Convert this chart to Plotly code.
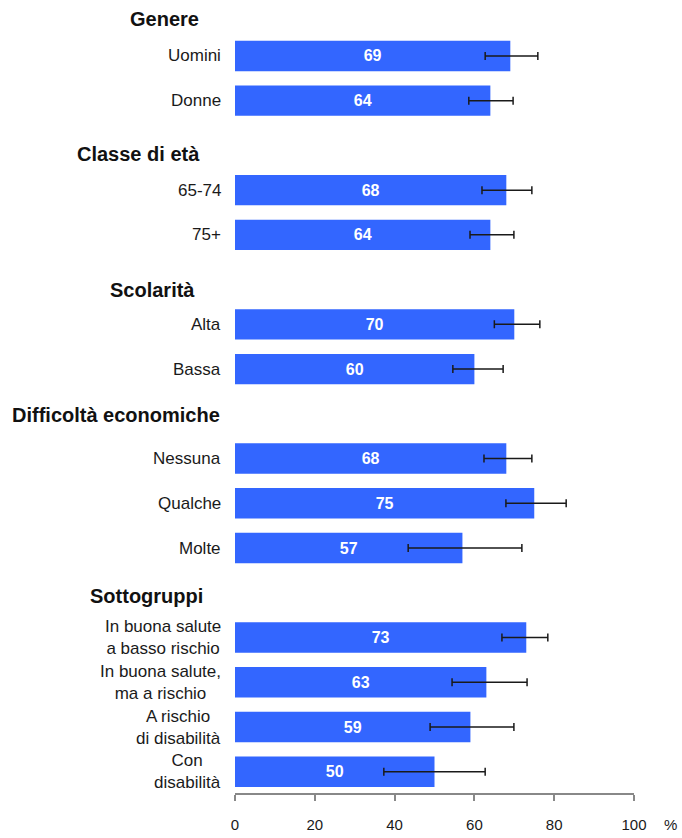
import plotly.graph_objects as go

# ---- data ----
groups = ["Genere", "Classe di età", "Scolarità", "Difficoltà economiche", "Sottogruppi"]
categories = [
    ["Uomini", "Donne"],
    ["65-74", "75+"],
    ["Alta", "Bassa"],
    ["Nessuna", "Qualche", "Molte"],
    ["In buona salute<br>a basso rischio", "In buona salute,<br>ma a rischio",
     "A rischio<br>di disabilità", "Con<br>disabilità"],
]
values = [69, 64, 68, 64, 70, 60, 68, 75, 57, 73, 63, 59, 50]
ci_low = [62.7, 58.6, 61.9, 58.9, 65.0, 54.6, 62.4, 67.9, 43.4, 66.9, 54.4, 48.9, 37.3]
ci_high = [75.9, 69.7, 74.4, 69.9, 76.4, 67.2, 74.4, 83.0, 71.9, 78.4, 73.2, 69.9, 62.7]
x_ticks = [0, 20, 40, 60, 80, 100]

# ---- build category order (header slot + items per group) ----
order = []
bar_cats = []
for g, items in zip(groups, categories):
    order.append("§" + g)
    for it in items:
        order.append(it)
        bar_cats.append(it)

FONT = "Liberation Sans, Arial, sans-serif"
BLUE = "#3366FF"

err_plus = [h - v for h, v in zip(ci_high, values)]
err_minus = [v - l for l, v in zip(ci_low, values)]

fig = go.Figure()
fig.add_trace(go.Bar(
    x=values, y=bar_cats, orientation="h",
    marker=dict(color=BLUE, line=dict(width=0)),
    width=0.68,
    text=[str(v) for v in values],
    textposition="inside", insidetextanchor="middle", textangle=0,
    textfont=dict(family=FONT, size=16, color="white", weight="bold"),
    error_x=dict(type="data", symmetric=False, array=err_plus, arrayminus=err_minus,
                 color="#1a1a1a", thickness=1.5, width=4),
    hoverinfo="skip", showlegend=False,
))

n = len(order)
fig.update_layout(
    width=682, height=838,
    margin=dict(l=235, r=48, t=5, b=36),
    paper_bgcolor="white", plot_bgcolor="white",
    font=dict(family=FONT, color="#1a1a1a"),
    bargap=0.3,
)
fig.update_xaxes(
    range=[0, 100], tickvals=x_ticks, ticktext=[str(t) for t in x_ticks],
    showgrid=False, zeroline=False,
    showline=True, linecolor="#888888", linewidth=1.5,
    ticks="outside", ticklen=6, tickcolor="#888888", tickwidth=1.5,
    tickfont=dict(family=FONT, size=15, color="#1a1a1a"),
    ticklabelstandoff=11,
)
fig.update_yaxes(
    type="category", categoryorder="array", categoryarray=order,
    range=[n - 1 + 0.475, -0.138],
    showgrid=False, zeroline=False, showline=False, showticklabels=False, ticks="",
)

# category labels (centered multi-line, right-anchored)
for c in bar_cats:
    fig.add_annotation(
        x=0, xref="paper", y=c, yref="y", xanchor="right", yanchor="middle",
        xshift=-12, text=c, showarrow=False, align="center",
        font=dict(family=FONT, size=17, color="#1a1a1a"),
    )

# group headers
header_left_px = [128, 75, 108, 10, 88]
header_yshift = [-8, -9, -10, -1, -3]
plot_w = 682 - 235 - 48
for g, lx, ys in zip(groups, header_left_px, header_yshift):
    fig.add_annotation(
        x=(lx - 235) / plot_w, xref="paper", y="§" + g, yref="y",
        xanchor="left", yanchor="middle", yshift=ys,
        text="<b>" + g + "</b>", showarrow=False,
        font=dict(family=FONT, size=20, color="#111111"),
    )

# percent unit label
fig.add_annotation(
    x=(670 - 235) / plot_w, xref="paper", y=0, yref="paper",
    xanchor="center", yanchor="top", yshift=-21,
    text="%", showarrow=False, font=dict(family=FONT, size=15, color="#1a1a1a"),
)

fig.write_html("out.html")
